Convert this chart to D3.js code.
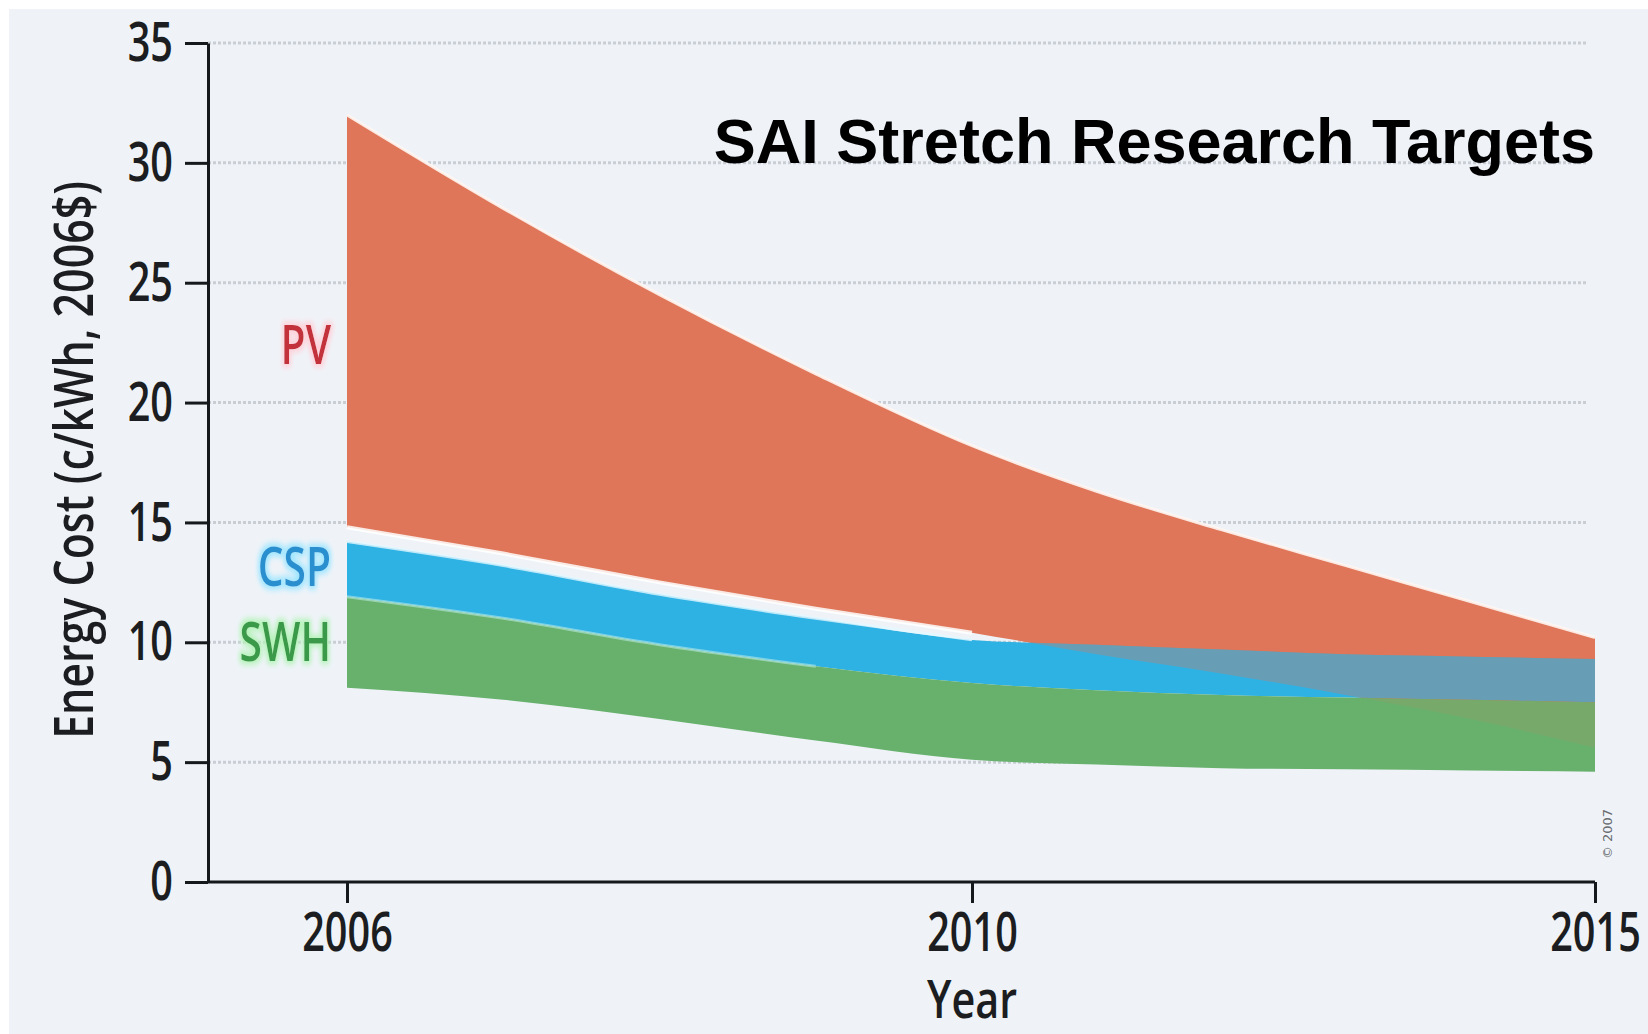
<!DOCTYPE html>
<html>
<head>
<meta charset="utf-8">
<script src="https://cdn.jsdelivr.net/npm/d3@7"></script>
<style>
  html, body { margin: 0; padding: 0; background: #ffffff; }
  svg { display: block; }
</style>
</head>
<body>
<svg id="chart" width="1648" height="1034"></svg>
<script>
// Cost ranges (c/kWh, 2006$) for each technology, by year
const years   = [2006, 2007, 2008, 2009, 2010, 2011, 2012, 2013, 2014, 2015];
const pvHigh  = [32.0, 28.1, 24.5, 21.2, 18.2, 16.3, 14.7, 13.2, 11.7, 10.2];
const pvLow   = [14.8, 13.7, 12.5, 11.4, 10.4, 9.5, 8.7, 7.8, 6.8, 5.6];
const cspHigh = [14.2, 13.2, 12.0, 11.0, 10.1, 9.9, 9.7, 9.5, 9.4, 9.3];
const cspLow  = [11.9, 11.0, 9.9, 9.0, 8.3, 8.0, 7.8, 7.7, 7.6, 7.5];
const swhHigh = [11.9, 11.0, 9.9, 9.0, 8.3, 8.0, 7.8, 7.7, 7.6, 7.5];
const swhLow  = [8.1, 7.6, 6.8, 5.9, 5.1, 4.9, 4.75, 4.7, 4.65, 4.6];

const seriesNames = ["PV", "CSP", "SWH"];
const yTicks = [0, 5, 10, 15, 20, 25, 30, 35];
const xTicks = [2006, 2010, 2015];
const titleText = "SAI Stretch Research Targets";
const yTitle = "Energy Cost (c/kWh, 2006$)";
const xTitle = "Year";
const creditText = "© 2007";

const svg = d3.select("#chart");
const W = 1648, H = 1034;

// panel background
svg.append("rect").attr("width", W).attr("height", H).attr("fill", "#ffffff");
svg.append("rect").attr("x", 9).attr("y", 9).attr("width", W - 9).attr("height", H - 9).attr("fill", "#eff3f8");

// scales: the year axis puts its three labelled years at equal spacing
const x = d3.scaleLinear().domain([2006, 2010, 2015]).range([347, 972, 1595]);
const y = d3.scaleLinear().domain([0, 35]).range([882, 43]);
const axisX0 = 208;

const rows = (lo, hi) => years.map((yr, i) => ({ year: yr, low: lo[i], high: hi[i] }));
const pv = rows(pvLow, pvHigh);
const csp = rows(cspLow, cspHigh);
const swh = rows(swhLow, swhHigh);

const area = d3.area()
  .x(d => x(d.year)).y0(d => y(d.low)).y1(d => y(d.high))
  .curve(d3.curveMonotoneX);
const lineHigh = d3.line().x(d => x(d.year)).y(d => y(d.high)).curve(d3.curveMonotoneX);
const lineLow = d3.line().x(d => x(d.year)).y(d => y(d.low)).curve(d3.curveMonotoneX);

const defs = svg.append("defs");

// dotted grid lines
svg.append("g").selectAll("line")
  .data(yTicks.filter(v => v > 0))
  .join("line")
  .attr("x1", axisX0).attr("x2", 1588)
  .attr("y1", d => y(d)).attr("y2", d => y(d))
  .attr("stroke", "#c9ced5").attr("stroke-width", 3)
  .attr("stroke-dasharray", "3,2");

// title
svg.append("text")
  .attr("x", 1595).attr("y", 163)
  .attr("text-anchor", "end")
  .attr("font-family", "'Liberation Sans', Arial, sans-serif")
  .attr("font-weight", "bold")
  .attr("font-size", 63)
  .attr("fill", "#000")
  .text(titleText);

// clip regions for the overlapping bands
defs.append("clipPath").attr("id", "clip-csp").append("path").attr("d", area(csp));
defs.append("clipPath").attr("id", "clip-swh").append("path").attr("d", area(swh));

const colors = { PV: "#df7659", CSP: "#2eb1e3", SWH: "#67b16d" };
const bands = svg.append("g");

bands.append("path").attr("d", area(pv)).attr("fill", colors.PV);
bands.append("path").attr("d", area(csp)).attr("fill", colors.CSP);
bands.append("path").attr("d", area(swh)).attr("fill", colors.SWH);
// PV range showing through where it overlaps the lower bands
bands.append("path").attr("d", area(pv)).attr("fill", colors.PV)
  .attr("fill-opacity", 0.33).attr("clip-path", "url(#clip-csp)");
bands.append("path").attr("d", area(pv)).attr("fill", colors.PV)
  .attr("fill-opacity", 0.14).attr("clip-path", "url(#clip-swh)");

// light edges along the bands
bands.append("path").attr("d", lineHigh(pv)).attr("fill", "none")
  .attr("stroke", "#fff6f2").attr("stroke-width", 3).attr("stroke-opacity", 0.9);
bands.append("path").attr("d", lineLow(pv.filter(d => d.year <= 2010))).attr("fill", "none")
  .attr("stroke", "#ffffff").attr("stroke-width", 4).attr("stroke-opacity", 0.85);
bands.append("path").attr("d", lineHigh(csp.filter(d => d.year <= 2010))).attr("fill", "none")
  .attr("stroke", "#e4f7ff").attr("stroke-width", 3).attr("stroke-opacity", 0.8);
bands.append("path").attr("d", lineLow(csp.filter(d => d.year <= 2009))).attr("fill", "none")
  .attr("stroke", "#bfeee8").attr("stroke-width", 3).attr("stroke-opacity", 0.55);

// condensed axis lettering: squeeze each text horizontally about its anchor
const axisFont = "'Open Sans', 'Noto Sans', sans-serif";
function condense(sel, k) {
  sel.each(function () {
    const t = d3.select(this);
    const ax = +(t.attr("x") || 0);
    const base = t.attr("transform") || "";
    t.attr("transform", `${base} translate(${ax},0) scale(${k},1) translate(${-ax},0)`.trim());
  });
}

// y axis
const gy = svg.append("g").attr("transform", `translate(${axisX0},0)`)
  .call(d3.axisLeft(y).tickValues(yTicks).tickSize(23).tickSizeOuter(0).tickPadding(12));
gy.select(".domain").attr("stroke", "#16191c").attr("stroke-width", 3);
gy.selectAll(".tick line").attr("stroke", "#16191c").attr("stroke-width", 3);
gy.selectAll(".tick text")
  .attr("font-family", axisFont).attr("font-size", 55).attr("font-weight", 600)
  .attr("fill", "#1b1d20")
  .call(condense, 0.72);

// x axis (line runs from the y axis to the last year)
svg.append("line")
  .attr("x1", axisX0).attr("x2", x(2015))
  .attr("y1", y(0)).attr("y2", y(0))
  .attr("stroke", "#16191c").attr("stroke-width", 3);
const gx = svg.append("g").attr("transform", `translate(0,${y(0)})`)
  .call(d3.axisBottom(x).tickValues(xTicks).tickFormat(d3.format("d"))
    .tickSize(21).tickSizeOuter(0).tickPadding(9));
gx.select(".domain").remove();
gx.selectAll(".tick line").attr("stroke", "#16191c").attr("stroke-width", 3);
gx.selectAll(".tick text")
  .attr("font-family", axisFont).attr("font-size", 55).attr("font-weight", 600)
  .attr("fill", "#1b1d20")
  .call(condense, 0.72);

// axis titles
svg.append("text")
  .attr("x", x(2010)).attr("y", 1018)
  .attr("text-anchor", "middle")
  .attr("font-family", axisFont).attr("font-size", 53).attr("font-weight", 600)
  .attr("fill", "#1b1d20")
  .text(xTitle).call(condense, 0.78);

svg.append("text")
  .attr("transform", "translate(93,460) rotate(-90)")
  .attr("text-anchor", "middle")
  .attr("font-family", axisFont).attr("font-size", 55).attr("font-weight", 600)
  .attr("fill", "#1b1d20")
  .text(yTitle).call(condense, 0.78);

// series labels with a soft glow
const labelStyle = {
  PV:  { fill: "#c3303b", glow: "#ffd0d8", yv: 21.6 },
  CSP: { fill: "#2a8fcf", glow: "#9fe6ff", yv: 12.35 },
  SWH: { fill: "#3b9a49", glow: "#b4f3b8", yv: 9.2 }
};
seriesNames.forEach(name => {
  const st = labelStyle[name];
  const f = defs.append("filter").attr("id", "glow-" + name)
    .attr("x", "-30%").attr("y", "-30%").attr("width", "160%").attr("height", "160%");
  f.append("feMorphology").attr("in", "SourceAlpha").attr("operator", "dilate").attr("radius", 3).attr("result", "d");
  f.append("feFlood").attr("flood-color", st.glow).attr("result", "c");
  f.append("feComposite").attr("in", "c").attr("in2", "d").attr("operator", "in").attr("result", "g");
  f.append("feGaussianBlur").attr("in", "g").attr("stdDeviation", 3).attr("result", "gb");
  const m = f.append("feMerge");
  m.append("feMergeNode").attr("in", "gb");
  m.append("feMergeNode").attr("in", "SourceGraphic");

  svg.append("text")
    .attr("x", 331).attr("y", y(st.yv))
    .attr("text-anchor", "end")
    .attr("font-family", axisFont).attr("font-weight", 600)
    .attr("font-size", 55).attr("fill", st.fill)
    .attr("filter", `url(#glow-${name})`)
    .text(name).call(condense, 0.74);
});

// small credit line beside the last year
svg.append("text")
  .attr("transform", "translate(1612,834) rotate(-90)")
  .attr("text-anchor", "middle")
  .attr("font-family", "'DejaVu Sans', sans-serif").attr("font-size", 13)
  .attr("fill", "#6a6d72")
  .text(creditText);
</script>
</body>
</html>
